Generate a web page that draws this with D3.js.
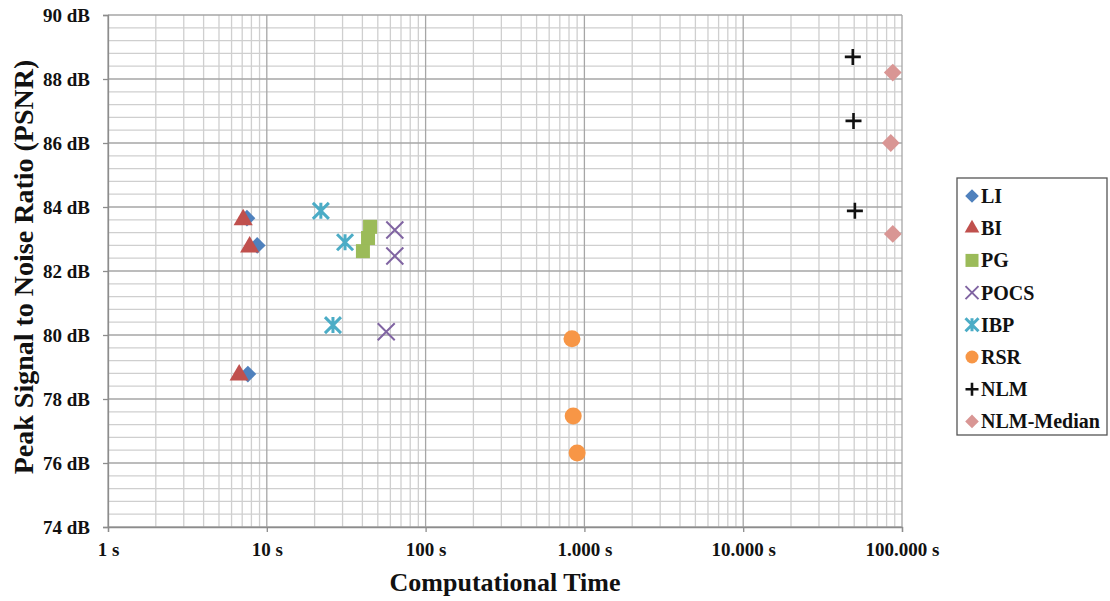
<!DOCTYPE html>
<html>
<head>
<meta charset="utf-8">
<script src="https://cdn.jsdelivr.net/npm/d3@7"></script>
<style>
  body { margin: 0; background: #fff; }
  text { font-family: "Liberation Serif", "Times New Roman", serif; font-weight: bold; }
</style>
</head>
<body>
<div id="chart"></div>
<script>
// 데이터
const seriesNames = ["LI", "BI", "PG", "POCS", "IBP", "RSR", "NLM", "NLM-Median"];
const liTime = [7.5, 8.7, 7.6];
const liPsnr = [83.65, 82.8, 78.78];
const biTime = [7.1, 7.8, 6.7];
const biPsnr = [83.6, 82.75, 78.75];
const pgTime = [44.7, 43.4, 40.3];
const pgPsnr = [83.38, 83.03, 82.62];
const pocsTime = [64, 64, 56.5];
const pocsPsnr = [83.28, 82.47, 80.1];
const ibpTime = [21.9, 31.1, 26.1];
const ibpPsnr = [83.88, 82.9, 80.31];
const rsrTime = [835, 850, 900];
const rsrPsnr = [79.88, 77.47, 76.31];
const nlmTime = [49000, 49500, 50500];
const nlmPsnr = [88.69, 86.69, 83.88];
const nlmMedTime = [87500, 85000, 87500];
const nlmMedPsnr = [88.2, 86.0, 83.16];

const xTickValues = [1, 10, 100, 1000, 10000, 100000];
const xTickLabels = ["1 s", "10 s", "100 s", "1.000 s", "10.000 s", "100.000 s"];
const yTickValues = [74, 76, 78, 80, 82, 84, 86, 88, 90];

const times = [liTime, biTime, pgTime, pocsTime, ibpTime, rsrTime, nlmTime, nlmMedTime];
const psnrs = [liPsnr, biPsnr, pgPsnr, pocsPsnr, ibpPsnr, rsrPsnr, nlmPsnr, nlmMedPsnr];
const colors = ["#4F81BD", "#C0504D", "#9BBB59", "#8064A2", "#4BACC6", "#F79646", "#111111", "#D99694"];
const shapes = ["diamond", "triangle", "square", "x", "star", "circle", "plus", "diamond"];

// 크기 및 여백
const width = 1110, height = 601;
const margin = { top: 15, left: 108, right: 208, bottom: 74 };

const svg = d3.select("#chart").append("svg")
  .attr("width", width).attr("height", height);

const x = d3.scaleLog().domain([1, 100000]).range([margin.left, width - margin.right]);
const y = d3.scaleLinear().domain([74, 90]).range([height - margin.bottom, margin.top]);

// 보조 격자선
const grid = svg.append("g");
grid.selectAll("line.xminor")
  .data(x.ticks().filter(t => !xTickValues.includes(t)))
  .enter().append("line")
  .attr("x1", d => x(d)).attr("x2", d => x(d))
  .attr("y1", y(74)).attr("y2", y(90))
  .attr("stroke", "#cfcfcf").attr("stroke-width", 1.3);

grid.selectAll("line.yminor")
  .data(d3.range(74, 90.01, 0.4).filter(v => Math.abs(v - Math.round(v)) > 0.01 || Math.round(v) % 2 === 1))
  .enter().append("line")
  .attr("x1", x(1)).attr("x2", x(100000))
  .attr("y1", d => y(d)).attr("y2", d => y(d))
  .attr("stroke", "#cfcfcf").attr("stroke-width", 1.3);

// 주 격자선
grid.selectAll("line.xmajor")
  .data(xTickValues)
  .enter().append("line")
  .attr("x1", d => x(d)).attr("x2", d => x(d))
  .attr("y1", y(74)).attr("y2", y(90))
  .attr("stroke", "#a6a6a6").attr("stroke-width", 1.3);

grid.selectAll("line.ymajor")
  .data(yTickValues)
  .enter().append("line")
  .attr("x1", x(1)).attr("x2", x(100000))
  .attr("y1", d => y(d)).attr("y2", d => y(d))
  .attr("stroke", "#a6a6a6").attr("stroke-width", 1.3);

// 축
const yAxis = svg.append("g")
  .attr("transform", `translate(${x(1)},0)`)
  .call(d3.axisLeft(y).tickValues(yTickValues).tickFormat(d => d + " dB").tickSize(5).tickPadding(13));
const xAxis = svg.append("g")
  .attr("transform", `translate(0,${y(74)})`)
  .call(d3.axisBottom(x).tickValues(xTickValues).tickFormat((d, i) => xTickLabels[i]).tickSize(5).tickPadding(11));

[yAxis, xAxis].forEach(ax => {
  ax.attr("font-family", "'Liberation Serif', serif").attr("font-size", 19);
  ax.select(".domain").attr("stroke", "#8c8c8c").attr("stroke-width", 1.3);
  ax.selectAll(".tick line").attr("stroke", "#8c8c8c").attr("stroke-width", 1.3);
  ax.selectAll(".tick text")
    .attr("fill", "#111")
    .style("font-size", "19px")
    .style("font-family", "'Liberation Serif', serif")
    .style("font-weight", "bold");
});

// 축 제목
svg.append("text")
  .attr("transform", `translate(33,${(y(74) + y(90)) / 2 - 4}) rotate(-90)`)
  .attr("text-anchor", "middle")
  .style("font-size", "28px")
  .attr("fill", "#111")
  .text("Peak Signal to Noise Ratio (PSNR)");

svg.append("text")
  .attr("x", (x(1) + x(100000)) / 2)
  .attr("y", 591)
  .attr("text-anchor", "middle")
  .style("font-size", "26px")
  .attr("fill", "#111")
  .text("Computational Time");

// 마커 그리기
function drawMarker(g, shape, color, s) {
  if (shape === "diamond") {
    g.append("path").attr("d", d3.symbol().type(d3.symbolSquare).size(s * s * 0.55)())
      .attr("transform", "rotate(45)").attr("fill", color);
  } else if (shape === "triangle") {
    g.append("path").attr("d", d3.symbol().type(d3.symbolTriangle).size(s * s * 0.55)())
      .attr("fill", color);
  } else if (shape === "square") {
    g.append("rect").attr("x", -s / 2).attr("y", -s / 2).attr("width", s).attr("height", s)
      .attr("fill", color);
  } else if (shape === "circle") {
    g.append("circle").attr("r", s / 2).attr("fill", color);
  } else if (shape === "x") {
    const h = s / 2;
    g.append("path").attr("d", `M${-h},${-h}L${h},${h}M${-h},${h}L${h},${-h}`)
      .attr("stroke", color).attr("stroke-width", 2).attr("fill", "none");
  } else if (shape === "star") {
    const h = s / 2;
    g.append("path").attr("d", `M${-h},${-h}L${h},${h}M${-h},${h}L${h},${-h}M0,${-h}L0,${h}`)
      .attr("stroke", color).attr("stroke-width", 3).attr("fill", "none");
  } else if (shape === "plus") {
    const h = s / 2;
    g.append("path").attr("d", `M${-h},0L${h},0M0,${-h}L0,${h}`)
      .attr("stroke", color).attr("stroke-width", 2.6).attr("fill", "none");
  }
}

const markerSize = [16, 17, 14, 17, 16, 17, 16, 17];

seriesNames.forEach((name, si) => {
  const pts = times[si].map((t, i) => ({ t, v: psnrs[si][i] }));
  const g = svg.append("g").attr("class", "series");
  pts.forEach(p => {
    const m = g.append("g").attr("transform", `translate(${x(p.t)},${y(p.v)})`);
    drawMarker(m, shapes[si], colors[si], markerSize[si]);
  });
});

// 범례
const legend = svg.append("g");
legend.append("rect")
  .attr("x", 957).attr("y", 178).attr("width", 150).attr("height", 257)
  .attr("fill", "#fff").attr("stroke", "#555").attr("stroke-width", 1.3);

seriesNames.forEach((name, i) => {
  const ly = 196 + i * 32.2;
  const m = legend.append("g").attr("transform", `translate(972,${ly})`);
  drawMarker(m, shapes[i], colors[i], 13);
  legend.append("text")
    .attr("x", 981).attr("y", ly + 7)
    .style("font-size", "20px")
    .attr("fill", "#111")
    .text(name);
});
</script>
</body>
</html>
